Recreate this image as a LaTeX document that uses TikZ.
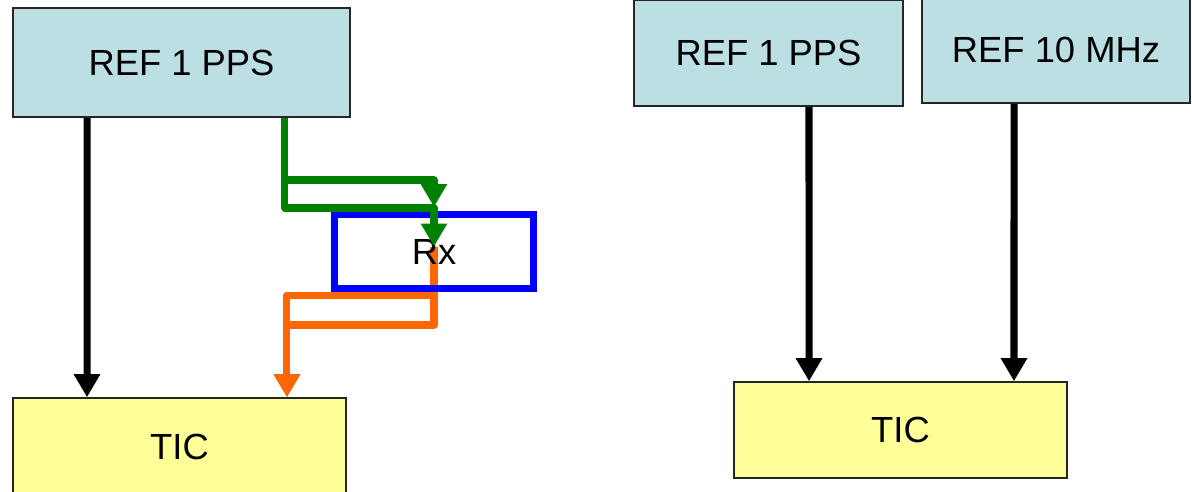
\documentclass[tikz,border=0pt]{standalone}
\usepackage{fontspec}
\setmainfont{Liberation Sans}
\usetikzlibrary{positioning, arrows.meta, backgrounds}
\definecolor{ref_fill}{HTML}{BBDFE3}
\definecolor{tic_fill}{HTML}{FFFF99}
\definecolor{sig_green}{HTML}{008000}
\definecolor{sig_orange}{HTML}{FF6600}

\begin{document}
\begin{tikzpicture}[
    x=0.02cm, y=-0.02cm,
    font=\fontsize{20.7}{24}\selectfont,
    >={Triangle[width=0.5cm, length=0.46cm]},
    box/.style={draw=black!85, line width=0.9pt, align=center, inner sep=0pt},
    refbox/.style={box, fill=ref_fill},
    ticbox/.style={box, fill=tic_fill},
    rxbox/.style={draw=blue, line width=4pt, inner sep=0pt,
        minimum width=3.98cm, minimum height=1.48cm},
    sig/.style={->, line width=4pt, line join=round, draw=#1},
    sig/.default=black
]
\useasboundingbox (0,0) rectangle (1192,491);

%% ============================================================
%% LEFT: REF 1 PPS -> TIC, via Rx
%% ============================================================
\node[refbox, minimum width=6.74cm, minimum height=2.18cm] (refL) at (181.5, 62.5) {REF 1 PPS};
\node[ticbox, minimum width=6.66cm, minimum height=1.96cm] (ticL) at (179.5, 447) {TIC};
\node[rxbox] (rx) at (434, 251.5) {\raisebox{-3pt}{Rx}};

\draw[sig] ([xshift=-1.89cm]refL.south) -- ([xshift=-1.85cm]ticL.north);

\coordinate (gsplit) at ([xshift=2.07cm]refL.south);
\coordinate (ostart) at ([yshift=0.1cm]rx.center);
\coordinate (oend) at ([xshift=2.15cm]ticL.north);

%% --- Rx output (behind the box) ---
\begin{scope}[on background layer]
    \draw[sig=sig_orange] (ostart) -- ([yshift=-0.06cm]rx.south) -| (oend);
    \draw[sig=sig_orange] (ostart) -- ([yshift=-0.66cm]rx.south) -| (oend);
\end{scope}

%% --- Rx input ---
\draw[sig=sig_green] (gsplit) |- ([yshift=0.62cm]rx.north) -- ([yshift=0.08cm]rx.north);
\draw[sig=sig_green] (gsplit) |- ([yshift=0.06cm]rx.north) -- (ostart);

%% ============================================================
%% RIGHT: REF 1 PPS + REF 10 MHz -> TIC
%% ============================================================
\node[refbox, minimum width=5.38cm, minimum height=2.12cm] (refR) at (768.5, 53) {REF 1 PPS};
\node[refbox, minimum width=5.36cm, minimum height=2.12cm] (mhz) at (1056, 50) {REF 10 MHz};
\node[ticbox, minimum width=6.66cm, minimum height=1.92cm] (ticR) at (900.5, 430) {TIC};

\draw[sig] ([xshift=0.81cm]refR.south) -- ([xshift=-1.83cm]ticR.north);
\draw[sig] ([xshift=-0.84cm]mhz.south) -- ([xshift=2.27cm]ticR.north);

\end{tikzpicture}
\end{document}
